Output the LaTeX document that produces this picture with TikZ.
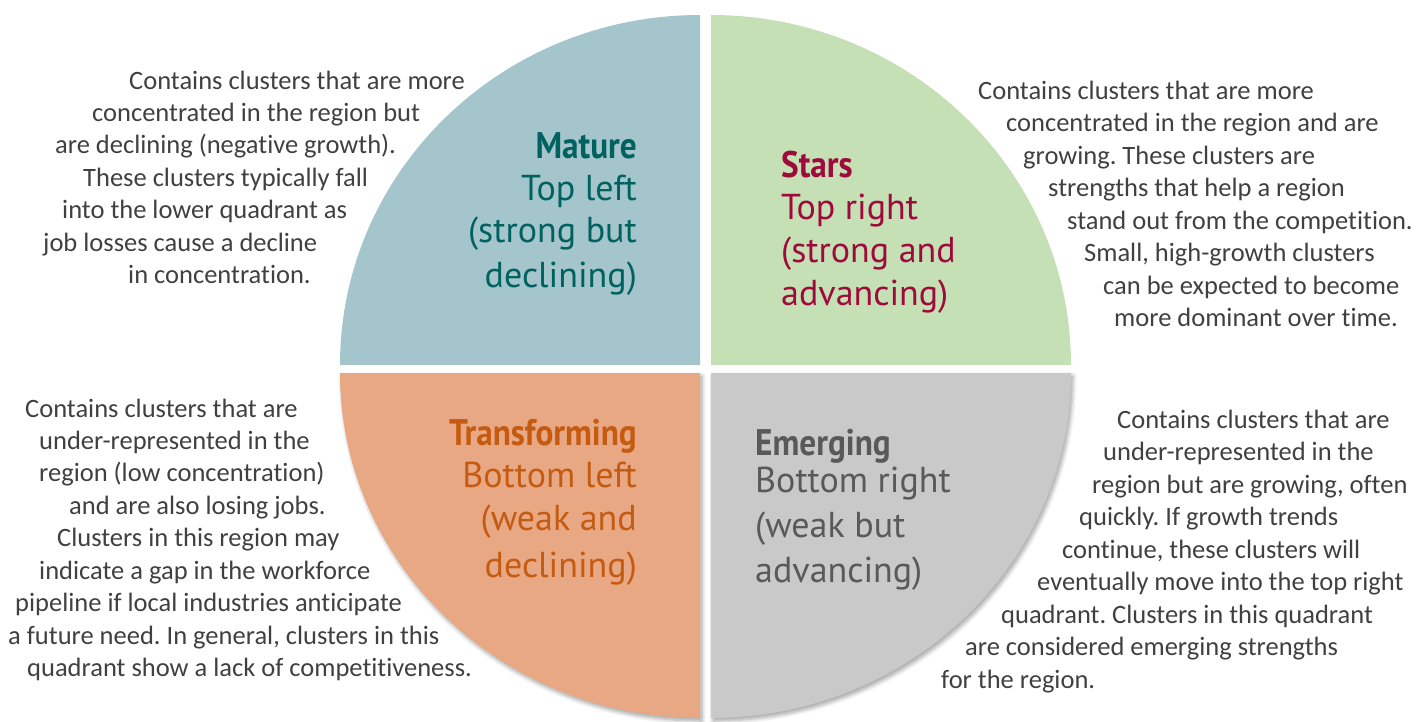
\documentclass[tikz,border=0pt]{standalone}
\usepackage{fontspec}
\setmainfont{Carlito}[Ligatures=NoCommon]
\newfontfamily\headfont{PT Sans}
\newfontfamily\headbold{PT Sans}[FakeStretch=0.9]
\usetikzlibrary{shadows.blur}
\frenchspacing
\definecolor{qtl}{HTML}{A5C5CC}
\definecolor{qtr}{HTML}{C5E0B4}
\definecolor{qbl}{HTML}{E8A883}
\definecolor{qbr}{HTML}{C9C9C9}
\definecolor{cmat}{HTML}{00625F}
\definecolor{cstar}{HTML}{9E0A3B}
\definecolor{ctrans}{HTML}{C55A11}
\definecolor{cemer}{HTML}{595959}
\definecolor{cbody}{HTML}{404040}
\newcommand\bodyline[4]{\node[bodytxt] (#1) at (#2,#3) {#4};}
\newcommand\headR[5]{\node[headtxt, anchor=base east, text=#5] (#1) at (#2,#3) {#4};}
\newcommand\headL[5]{\node[headtxt, anchor=base west, text=#5] (#1) at (#2,#3) {#4};}
\newcommand\hb[1]{{\headbold\bfseries\fontsize{37}{44}\selectfont #1}}
\begin{document}
\begin{tikzpicture}[x=1pt,y=-1pt,
  bodytxt/.style={inner sep=0pt, anchor=base west, text=cbody, font=\fontsize{26.5}{32}\selectfont},
  headtxt/.style={inner sep=0pt, font=\headfont\fontsize{36}{43}\selectfont},
  qshadow/.style={blur shadow={shadow xshift=2pt, shadow yshift=-3pt, shadow blur steps=6, shadow opacity=35, shadow blur radius=4pt}}
]
\useasboundingbox (0,0) rectangle (1417,721);
% quadrants
\fill[qtl] (700,365) -- (340,365) arc[start angle=180, end angle=90, x radius=360pt, y radius=350pt] -- cycle;
\fill[qtr] (711,365) -- (711,15) arc[start angle=90, end angle=0, x radius=360pt, y radius=350pt] -- cycle;
\path[fill=qbl, qshadow] (700,373) -- (340,373) arc[start angle=180, end angle=270, x radius=360pt, y radius=345pt] -- cycle;
\path[fill=qbr, qshadow] (711,373) -- (1071,373) arc[start angle=0, end angle=-90, x radius=360pt, y radius=345pt] -- cycle;
% headings
\headR{m1}{637}{158}{\hb{Mature}}{cmat}
\headR{m2}{637}{200}{Top left}{cmat}
\headR{m3}{637}{242}{(strong but}{cmat}
\headR{m4}{637}{287}{declining)}{cmat}
\headL{s1}{781}{177}{\hb{Stars}}{cstar}
\headL{s2}{781}{219}{Top right}{cstar}
\headL{s3}{781}{262}{(strong and}{cstar}
\headL{s4}{781}{305}{advancing)}{cstar}
\headR{t1}{637}{445}{\hb{Transforming}}{ctrans}
\headR{t2}{637}{487}{Bottom left}{ctrans}
\headR{t3}{637}{530}{(weak and}{ctrans}
\headR{t4}{637}{577}{declining)}{ctrans}
\headL{e1}{755}{455}{\hb{Emerging}}{cemer}
\headL{e2}{755}{492}{Bottom right}{cemer}
\headL{e3}{755}{537}{(weak but}{cemer}
\headL{e4}{755}{582}{advancing)}{cemer}
% top-left text
\bodyline{a1}{129}{89}{Contains clusters that are more}
\bodyline{a2}{92}{121}{concentrated in the region but}
\bodyline{a3}{55}{153}{are declining (negative growth).}
\bodyline{a4}{83}{186}{These clusters typically fall}
\bodyline{a5}{62}{218}{into the lower quadrant as}
\bodyline{a6}{43}{251}{job losses cause a decline}
\bodyline{a7}{128}{283}{in concentration.}
% top-right text
\bodyline{b1}{978}{99}{Contains clusters that are more}
\bodyline{b2}{1006}{131}{concentrated in the region and are}
\bodyline{b3}{1023}{164}{growing. These clusters are}
\bodyline{b4}{1048}{196}{strengths that help a region}
\bodyline{b5}{1067}{229}{stand out from the competition.}
\bodyline{b6}{1084}{261}{Small, high-growth clusters}
\bodyline{b7}{1103}{294}{can be expected to become}
\bodyline{b8}{1114}{326}{more dominant over time.}
% bottom-left text
\bodyline{c1}{25}{417}{Contains clusters that are}
\bodyline{c2}{39}{449}{under-represented in the}
\bodyline{c3}{39}{481}{region (low concentration)}
\bodyline{c4}{69}{514}{and are also losing jobs.}
\bodyline{c5}{57}{546}{Clusters in this region may}
\bodyline{c6}{39}{579}{indicate a gap in the workforce}
\bodyline{c7}{15}{611}{pipeline if local industries anticipate}
\bodyline{c8}{8}{644}{a future need. In general, clusters in this}
\bodyline{c9}{27}{676}{quadrant show a lack of competitiveness.}
% bottom-right text
\bodyline{d1}{1117}{428}{Contains clusters that are}
\bodyline{d2}{1103}{460}{under-represented in the}
\bodyline{d3}{1092}{493}{region but are growing, often}
\bodyline{d4}{1079}{525}{quickly. If growth trends}
\bodyline{d5}{1062}{558}{continue, these clusters will}
\bodyline{d6}{1037}{590}{eventually move into the top right}
\bodyline{d7}{1001}{623}{quadrant. Clusters in this quadrant}
\bodyline{d8}{965}{655}{are considered emerging strengths}
\bodyline{d9}{941}{688}{for the region.}
\end{tikzpicture}
\end{document}
